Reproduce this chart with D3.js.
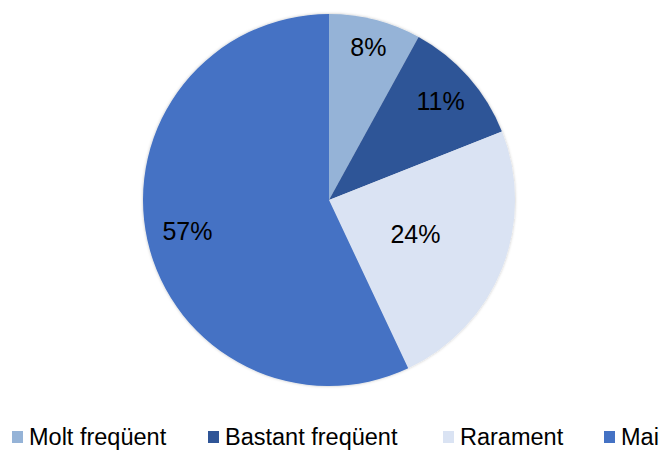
<!DOCTYPE html>
<html>
<head>
<meta charset="utf-8">
<script src="https://cdn.jsdelivr.net/npm/d3@7"></script>
<style>
  body { margin: 0; background: #fff; }
  text { font-family: "Liberation Sans", Arial, sans-serif; }
</style>
</head>
<body>
<script>
const categories = ["Molt freqüent", "Bastant freqüent", "Rarament", "Mai"];
const values = [8, 11, 24, 57];
const colors = ["#95b3d7", "#2f5597", "#dae3f3", "#4472c4"];
// label distance from centre as a fraction of the radius (Excel best fit)
const labelRadius = [0.85, 0.8, 0.5, 0.78];
const legendX = [12, 208, 443, 604];

const width = 659, height = 450;
const cx = 329, cy = 200, r = 186;

const svg = d3.select("body").append("svg")
    .attr("width", width)
    .attr("height", height);

const defs = svg.append("defs");
const filter = defs.append("filter")
    .attr("id", "shadow")
    .attr("x", "-10%").attr("y", "-10%")
    .attr("width", "120%").attr("height", "120%");
filter.append("feDropShadow")
    .attr("dx", 0).attr("dy", 0)
    .attr("stdDeviation", 1.5)
    .attr("flood-color", "#000")
    .attr("flood-opacity", 0.25);

const data = categories.map((c, i) => ({ cat: c, value: values[i], i: i }));

const pie = d3.pie().sort(null).value(d => d.value);
const arcs = pie(data);
const arc = d3.arc().innerRadius(0).outerRadius(r);

const g = svg.append("g").attr("transform", `translate(${cx},${cy})`);

g.append("g").style("filter", "url(#shadow)")
    .selectAll("path")
    .data(arcs)
    .join("path")
    .attr("d", arc)
    .attr("fill", d => colors[d.data.i]);

g.selectAll(".lbl")
    .data(arcs)
    .join("text")
    .classed("lbl", true)
    .attr("transform", d => {
        const a = (d.startAngle + d.endAngle) / 2;
        const rr = r * labelRadius[d.data.i];
        return `translate(${Math.sin(a) * rr},${-Math.cos(a) * rr})`;
    })
    .attr("text-anchor", "middle")
    .attr("dy", "0.35em")
    .attr("font-size", 25)
    .attr("fill", "#000")
    .text(d => d.data.value + "%");

const legend = svg.append("g").selectAll("g")
    .data(data)
    .join("g")
    .attr("transform", d => `translate(${legendX[d.i]},437)`);

legend.append("rect")
    .attr("x", 0).attr("y", -6)
    .attr("width", 11).attr("height", 12)
    .attr("fill", d => colors[d.i]);

legend.append("text")
    .attr("x", 17)
    .attr("dy", "0.35em")
    .attr("font-size", 23.5)
    .attr("fill", "#000")
    .text(d => d.cat);
</script>
</body>
</html>
